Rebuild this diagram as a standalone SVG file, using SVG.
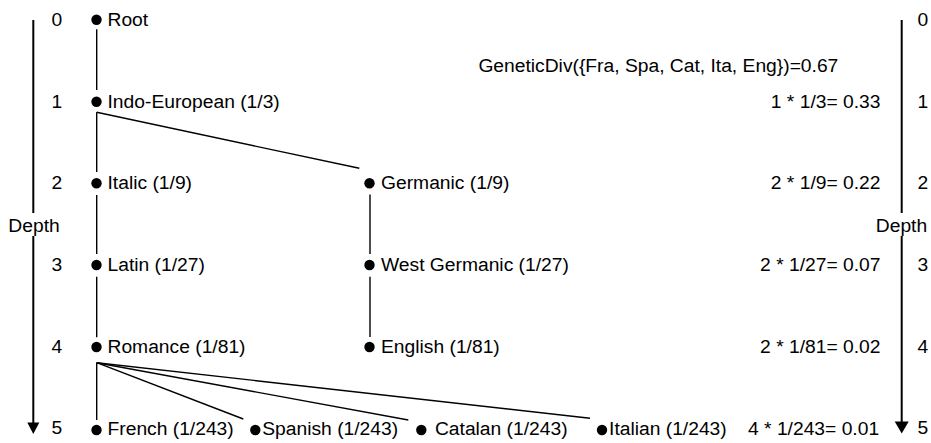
<svg xmlns="http://www.w3.org/2000/svg" width="931" height="443" viewBox="0 0 931 443">
  <style>
    text { font-family: "Liberation Sans", Arial, Helvetica, sans-serif; font-size: 18px; fill: #000; }
    .w { transform: scale(1.07, 1); }
    .end { text-anchor: end; }
    .mid { text-anchor: middle; }
    .dot { fill: #000; }
    .edge { stroke: #000; stroke-width: 1.4; fill: none; }
    .axis { stroke: #000; stroke-width: 2; fill: none; }
    .head { fill: #000; }
  </style>

  <rect width="931" height="443" fill="#fff"/>

  <!-- depth axes -->
  <g id="axis-left">
    <line class="axis" x1="33.3" y1="20" x2="33.3" y2="213"/>
    <line class="axis" x1="33.3" y1="236" x2="33.3" y2="423"/>
    <polygon class="head" points="27.3,422.5 39.3,422.5 33.3,434"/>
    <text class="w mid" x="31.8" y="231.7">Depth</text>
    <text class="w" x="48.1" y="26.3">0</text>
    <text class="w" x="48.1" y="108">1</text>
    <text class="w" x="48.1" y="189.5">2</text>
    <text class="w" x="48.1" y="271.3">3</text>
    <text class="w" x="48.1" y="353">4</text>
    <text class="w" x="48.1" y="434.5">5</text>
  </g>
  <g id="axis-right">
    <line class="axis" x1="901.7" y1="20" x2="901.7" y2="213"/>
    <line class="axis" x1="901.7" y1="236" x2="901.7" y2="422"/>
    <polygon class="head" points="894.7,421.5 908.7,421.5 901.7,433.5"/>
    <text class="w mid" x="842.5" y="231.7">Depth</text>
    <text class="w" x="857.5" y="26.3">0</text>
    <text class="w" x="857.5" y="108">1</text>
    <text class="w" x="857.5" y="189.5">2</text>
    <text class="w" x="857.5" y="271.3">3</text>
    <text class="w" x="857.5" y="353">4</text>
    <text class="w" x="857.5" y="434.5">5</text>
  </g>

  <!-- per-level contributions -->
  <g id="formulas">
    <text class="w" x="447.1" y="71.7">GeneticDiv({Fra, Spa, Cat, Ita, Eng})=0.67</text>
    <text class="w end" x="822.9" y="108">1 * 1/3= 0.33</text>
    <text class="w end" x="822.9" y="189.5">2 * 1/9= 0.22</text>
    <text class="w end" x="822.9" y="271.3">2 * 1/27= 0.07</text>
    <text class="w end" x="822.9" y="353">2 * 1/81= 0.02</text>
    <text class="w end" x="821.6" y="435">4 * 1/243= 0.01</text>
  </g>

  <!-- tree edges -->
  <g id="connectors">
    <line class="edge" x1="96.7" y1="29.3" x2="96.7" y2="90"/>
    <line class="edge" x1="96.7" y1="112.3" x2="96.7" y2="172"/>
    <line class="edge" x1="96.7" y1="112.3" x2="359.3" y2="168.3"/>
    <line class="edge" x1="96.7" y1="195" x2="96.7" y2="254"/>
    <line class="edge" x1="96.7" y1="276.7" x2="96.7" y2="337.3"/>
    <line class="edge" x1="370" y1="194.5" x2="370" y2="254"/>
    <line class="edge" x1="370" y1="276.7" x2="370" y2="337"/>
    <line class="edge" x1="96.7" y1="362.7" x2="96.7" y2="420"/>
    <line class="edge" x1="96.7" y1="362.7" x2="243.3" y2="419"/>
    <line class="edge" x1="96.7" y1="362.7" x2="408.3" y2="420"/>
    <line class="edge" x1="96.7" y1="362.7" x2="590" y2="418.3"/>
  </g>

  <!-- nodes -->
  <g id="root"><circle class="dot" cx="96.5" cy="19.8" r="5.2"/><text class="w" x="100.5" y="26.3">Root</text></g>
  <g id="indo-european"><circle class="dot" cx="96.5" cy="101.8" r="5.2"/><text class="w" x="100.5" y="108">Indo-European (1/3)</text></g>
  <g id="italic"><circle class="dot" cx="96.5" cy="183.3" r="5.2"/><text class="w" x="100.5" y="189.5">Italic (1/9)</text></g>
  <g id="germanic"><circle class="dot" cx="369.5" cy="183.3" r="5.2"/><text class="w" x="356.1" y="189.5">Germanic (1/9)</text></g>
  <g id="latin"><circle class="dot" cx="96.5" cy="265" r="5.2"/><text class="w" x="100.5" y="271.3">Latin (1/27)</text></g>
  <g id="west-germanic"><circle class="dot" cx="369.5" cy="265" r="5.2"/><text class="w" x="356.1" y="271.3">West Germanic (1/27)</text></g>
  <g id="romance"><circle class="dot" cx="96.5" cy="347" r="5.2"/><text class="w" x="100.5" y="353">Romance (1/81)</text></g>
  <g id="english"><circle class="dot" cx="369.5" cy="347" r="5.2"/><text class="w" x="356.1" y="353">English (1/81)</text></g>
  <g id="french"><circle class="dot" cx="96.5" cy="430" r="5.2"/><text class="w" x="100.5" y="435.3">French (1/243)</text></g>
  <g id="spanish"><circle class="dot" cx="255.3" cy="430" r="5.2"/><text class="w" x="245.1" y="435.3">Spanish (1/243)</text></g>
  <g id="catalan"><circle class="dot" cx="421.3" cy="430" r="5.2"/><text class="w" x="406.5" y="435.3">Catalan (1/243)</text></g>
  <g id="italian"><circle class="dot" cx="602" cy="430" r="5.2"/><text class="w" x="569.2" y="435.3">Italian (1/243)</text></g>
</svg>
